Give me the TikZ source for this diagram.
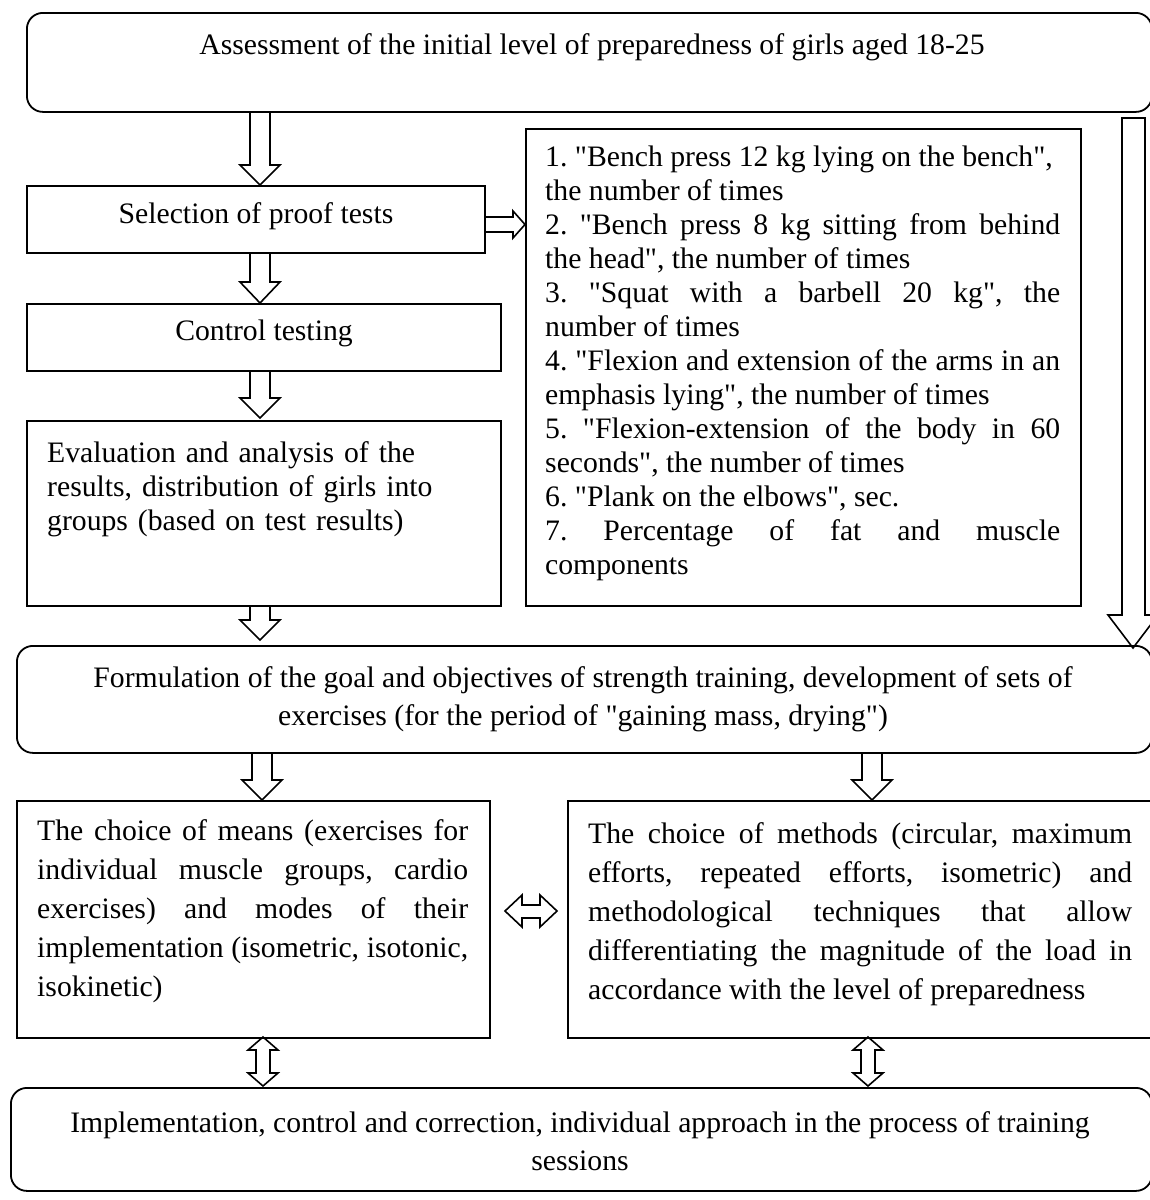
\documentclass[tikz,border=0pt]{standalone}
\usepackage{fontspec}
\setmainfont{Liberation Serif}[Ligatures=TeXOff]
\newcommand{\dnarr}[4]{% x, ytop, ytip, head length
  \draw[arr] (#1-10,#2) -- (#1-10,#3-#4) -- (#1-20,#3-#4) -- (#1,#3) -- (#1+20,#3-#4) -- (#1+10,#3-#4) -- (#1+10,#2);}
\newcommand{\vdbl}[3]{% x, ytop, ybottom
  \draw[arr] (#1,#2) -- (#1+15,#2+13) -- (#1+7,#2+13) -- (#1+7,#3-13) -- (#1+15,#3-13) -- (#1,#3) -- (#1-15,#3-13) -- (#1-7,#3-13) -- (#1-7,#2+13) -- (#1-15,#2+13) -- cycle;}
\begin{document}
\frenchspacing
\begin{tikzpicture}[x=1pt,y=-1pt,
  box/.style={draw, line width=1.8pt, inner sep=0pt, anchor=north west},
  rbox/.style={box, rounded corners=16pt},
  txt/.style={inner sep=0pt, font=\fontsize{29.7}{34}\selectfont},
  arr/.style={draw, line width=1.6pt, line join=miter}]
\useasboundingbox (0,0) rectangle (1150,1200);
% boxes
\node[rbox, minimum width=1125pt, minimum height=99pt] (top) at (26,12) {};
\node[box, minimum width=458pt, minimum height=67pt] (sel) at (26,185) {};
\node[box, minimum width=474pt, minimum height=67pt] (ctl) at (26,303) {};
\node[box, minimum width=474pt, minimum height=185pt] (eval) at (26,420) {};
\node[box, minimum width=555pt, minimum height=477pt] (list) at (525,128) {};
\node[rbox, minimum width=1135pt, minimum height=107pt] (form) at (16,645) {};
\node[box, minimum width=473pt, minimum height=237pt] (means) at (16,800) {};
\node[box, minimum width=584pt, minimum height=237pt] (meth) at (567,800) {};
\node[rbox, minimum width=1141pt, minimum height=103pt] (bot) at (10,1087) {};
% texts
\node[txt] (ttop) at (592,47) {Assessment of the initial level of preparedness of girls aged 18-25};
\node[txt] (tsel) at (256,216) {Selection of proof tests};
\node[txt] (tctl) at (264,333) {Control testing};
\node[txt, anchor=north west, text width=440pt, align=left] (teval) at (47,441)
  {Evaluation and analysis of the\\ results, distribution of girls into\\ groups (based on test results)};
\node[txt, anchor=north west, text width=515pt, align=justify] (tlist) at (545,146)
  {1. "Bench press 12 kg lying on the bench",\\ the number of times\par
   2. "Bench press 8 kg sitting from behind\linebreak the head", the number of times\par
   3. "Squat with a barbell 20 kg", the\linebreak number of times\par
   4. "Flexion and extension of the arms in an\linebreak emphasis lying", the number of times\par
   5. "Flexion-extension of the body in 60\linebreak seconds", the number of times\par
   6. "Plank on the elbows", sec.\par
   7. Percentage of fat and muscle\linebreak components};
\node[txt, font=\fontsize{29.7}{38}\selectfont, align=center] (tform) at (583,699)
  {Formulation of the goal and objectives of strength training, development of sets of\\ exercises (for the period of "gaining mass, drying")};
\node[txt, font=\fontsize{29.7}{39}\selectfont, anchor=north west, text width=431pt, align=justify] (tmeans) at (37,819)
  {The choice of means (exercises for\linebreak individual muscle groups, cardio\linebreak exercises) and modes of their\linebreak implementation (isometric, isotonic,\linebreak isokinetic)};
\node[txt, font=\fontsize{29.7}{39}\selectfont, anchor=north west, text width=544pt, align=justify] (tmeth) at (588,822)
  {The choice of methods (circular, maximum\linebreak efforts, repeated efforts, isometric) and\linebreak methodological techniques that allow\linebreak differentiating the magnitude of the load in\linebreak accordance with the level of preparedness};
\node[txt, font=\fontsize{29.7}{38}\selectfont, align=center] (tbot) at (580,1141)
  {Implementation, control and correction, individual approach in the process of training\\ sessions};
% arrows
\dnarr{260}{111}{185}{20}
\dnarr{260}{253}{303}{21}
\dnarr{260}{370}{418}{20}
\dnarr{260}{605}{640}{20}
\dnarr{262}{752}{800}{20}
\dnarr{872}{752}{800}{20}
% right big arrow
\draw[arr] (1122,118) -- (1122,615) -- (1108,615) -- (1133,648) -- (1158,615) -- (1145,615) -- (1145,118) -- cycle;
% small right arrow
\draw[arr] (484,217) -- (513,217) -- (513,211) -- (525,224.5) -- (513,238) -- (513,232) -- (484,232);
% horizontal double arrow
\draw[arr] (505,911) -- (522,895) -- (522,905) -- (540,905) -- (540,895) -- (557,911) -- (540,927) -- (540,918) -- (522,918) -- (522,927) -- cycle;
% vertical double arrows
\vdbl{263}{1037}{1086}
\vdbl{868}{1037}{1086}
\end{tikzpicture}
\end{document}
